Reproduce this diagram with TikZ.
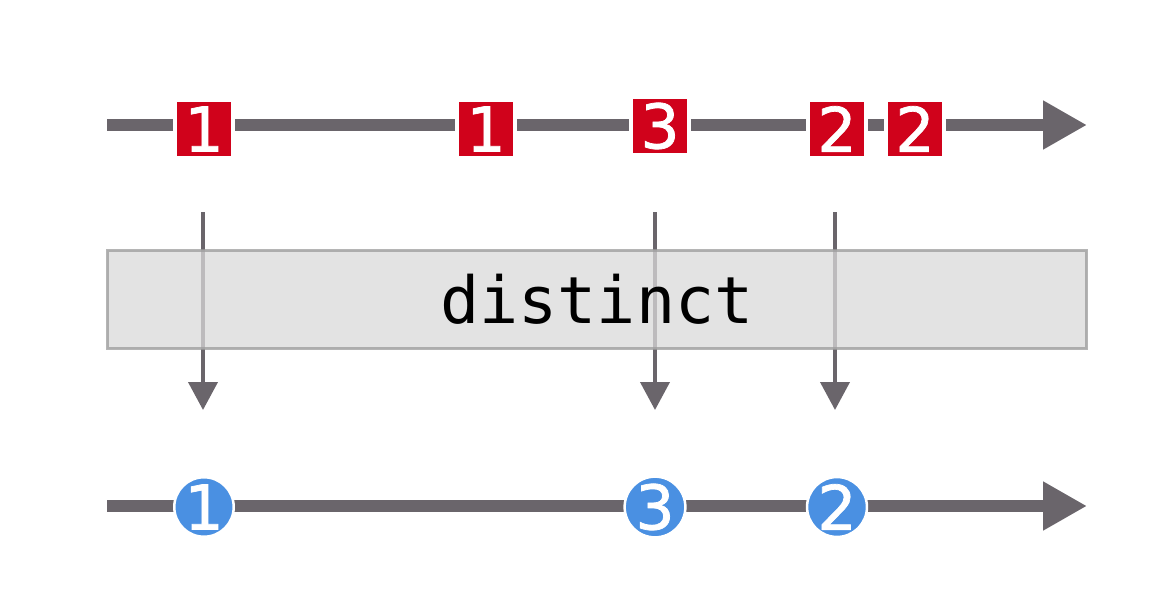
\documentclass[tikz,border=0pt]{standalone}
\usepackage{fontspec}
\setmainfont{DejaVu Sans}
\newfontfamily\digitfont[FakeBold=1.2]{DejaVu Sans}
\newfontfamily\opfont{DejaVu Sans Mono}
\usetikzlibrary{arrows.meta}

\definecolor{linegray}{HTML}{6A656B}
\definecolor{itemred}{HTML}{D0021B}
\definecolor{itemblue}{HTML}{4A90E2}
\definecolor{boxgray}{HTML}{D9D9D9}
\definecolor{boxborder}{HTML}{9C9C9C}

\tikzset{
	timeline/.style={linegray, line width=0.24cm, -{Triangle[length=0.88cm, width=0.92cm]}},
	passarrow/.style={linegray, line width=0.08cm, -{Triangle[length=0.56cm, width=0.58cm]}},
	inmark/.style={fill=itemred, draw=white, line width=0.08cm, minimum size=1.16cm, inner sep=0pt,
		text=white, font=\digitfont\fontsize{35}{35}\selectfont},
	outmark/.style={circle, fill=itemblue, draw=white, line width=0.05cm, minimum size=1.14cm, inner sep=0pt,
		text=white, font=\digitfont\fontsize{35}{35}\selectfont},
	opbox/.style={fill=boxgray, draw=boxborder, line width=0.06cm, fill opacity=0.75, draw opacity=0.75,
		text opacity=1, minimum width=19.6cm, minimum height=1.98cm, inner sep=0pt,
		font=\opfont\fontsize{37}{37}\selectfont}
}

\begin{document}
\begin{tikzpicture}[x=0.02cm, y=-0.02cm]
	\useasboundingbox (0,0) rectangle (1176,615);
	
	% Input stream
	\coordinate (instart) at (107,125);
	\coordinate (inend) at (1087,125);
	\draw[timeline] (instart) -- (inend);
	\node[inmark] (in1) at (204,129) {1};
	\node[inmark] (in2) at (486,129) {1};
	\node[inmark] (in3) at (660,126) {3};
	\node[inmark] (in4) at (837,129) {2};
	\node[inmark] (in5) at (915,129) {2};
	
	% Values passing through the operator
	\foreach \name/\x in {a/203, b/655, c/835} {
		\coordinate (from\name) at (\x,212);
		\coordinate (to\name) at (\x,410);
		\draw[passarrow] (from\name) -- (to\name);
	}
	
	% Operator box
	\node[opbox] (op) at (597,299.5) {distinct};
	
	% Output stream
	\coordinate (outstart) at (107,506);
	\coordinate (outend) at (1087,506);
	\draw[timeline] (outstart) -- (outend);
	\node[outmark] (out1) at (204,507) {1};
	\node[outmark] (out2) at (655,507) {3};
	\node[outmark] (out3) at (837,507) {2};
\end{tikzpicture}
\end{document}
